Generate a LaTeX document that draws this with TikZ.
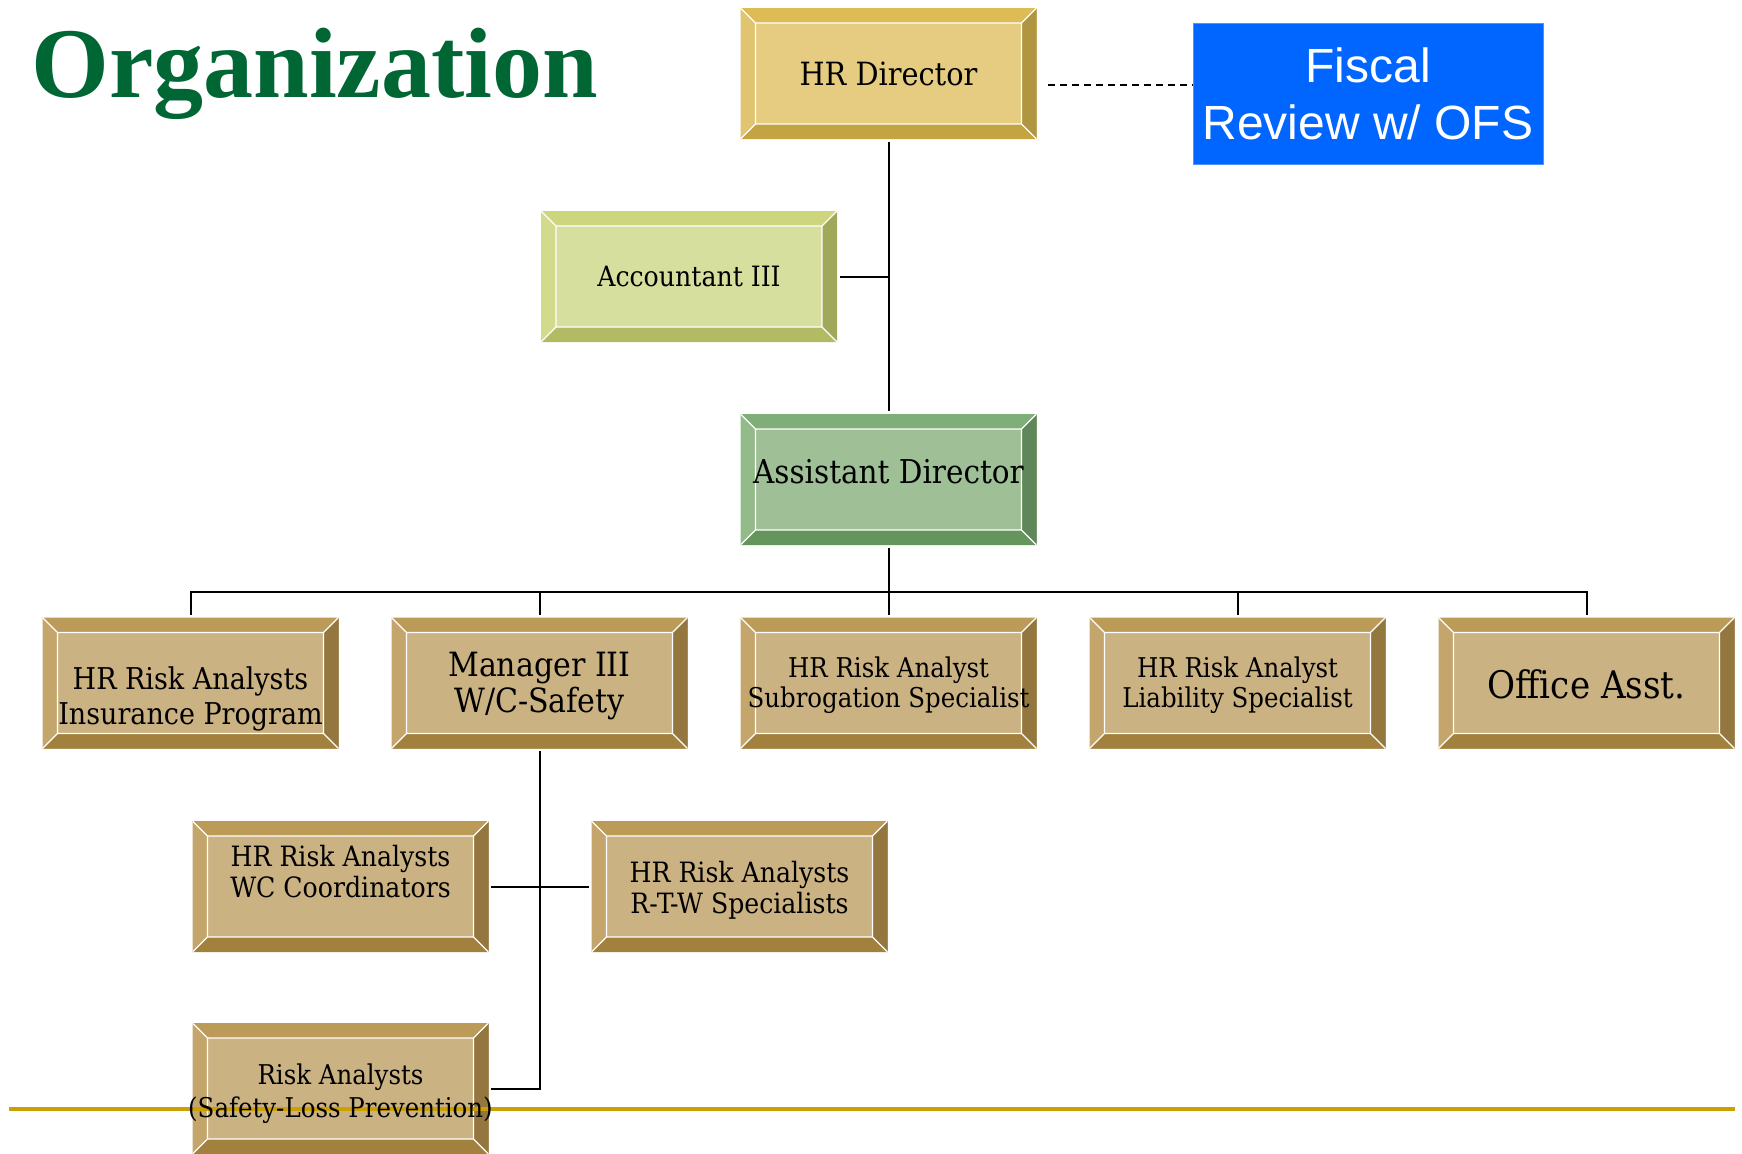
\documentclass[tikz,border=0pt]{standalone}
\usepackage{fontspec}
\setmainfont{DejaVu Serif Condensed}
\newfontfamily\titlefont{Liberation Serif}
\newfontfamily\fiscalfont{Liberation Sans}
\usepackage{tikz}
\usetikzlibrary{shapes}

\definecolor{orggreen}{RGB}{0,102,51}
\definecolor{fiscalblue}{RGB}{0,102,255}
\definecolor{rulegold}{RGB}{204,160,0}
\definecolor{hrC}{RGB}{229,204,128}
\definecolor{hrT}{RGB}{221,187,85}
\definecolor{hrL}{RGB}{224,196,112}
\definecolor{hrR}{RGB}{176,150,64}
\definecolor{hrB}{RGB}{196,164,66}
\definecolor{acC}{RGB}{214,223,158}
\definecolor{acT}{RGB}{205,214,125}
\definecolor{acL}{RGB}{210,219,140}
\definecolor{acR}{RGB}{160,168,90}
\definecolor{acB}{RGB}{178,187,98}
\definecolor{adC}{RGB}{159,192,151}
\definecolor{adT}{RGB}{127,174,120}
\definecolor{adL}{RGB}{147,187,138}
\definecolor{adR}{RGB}{95,135,89}
\definecolor{adB}{RGB}{100,149,93}
\definecolor{tanC}{RGB}{203,178,131}
\definecolor{tanT}{RGB}{188,154,87}
\definecolor{tanL}{RGB}{196,166,108}
\definecolor{tanR}{RGB}{147,119,63}
\definecolor{tanB}{RGB}{162,129,63}

\tikzset{bevel/.style n args={5}{fill=#1, path picture={
  \path (path picture bounding box.north west) coordinate (oA)
        (path picture bounding box.north east) coordinate (oB)
        (path picture bounding box.south east) coordinate (oC)
        (path picture bounding box.south west) coordinate (oD);
  \path ([shift={(7.5pt,-7.5pt)}]oA) coordinate (iA)
        ([shift={(-7.5pt,-7.5pt)}]oB) coordinate (iB)
        ([shift={(-7.5pt,7.5pt)}]oC) coordinate (iC)
        ([shift={(7.5pt,7.5pt)}]oD) coordinate (iD);
  \fill [#2] (oA) -- (oB) -- (iB) -- (iA) -- cycle;
  \fill [#3] (oA) -- (iA) -- (iD) -- (oD) -- cycle;
  \fill [#4] (oB) -- (oC) -- (iC) -- (iB) -- cycle;
  \fill [#5] (oD) -- (iD) -- (iC) -- (oC) -- cycle;
  \draw [white, line width=0.6pt] (iA) rectangle (iC) (oA) -- (iA) (oB) -- (iB) (oC) -- (iC) (oD) -- (iD);
}}}

\tikzstyle{line} = [draw, line width=1pt, shorten <=1.25pt, shorten >=1.25pt]
\tikzstyle{dashline} = [draw, line width=0.75pt, dash pattern=on 3.5pt off 2.5pt, shorten <=5.5pt]
\tikzstyle{box} = [rectangle, minimum width=148pt, minimum height=65.5pt, inner sep=0pt, text centered, align=center]
\tikzstyle{hrbox} = [box, bevel={hrC}{hrT}{hrL}{hrR}{hrB}]
\tikzstyle{acbox} = [box, bevel={acC}{acT}{acL}{acR}{acB}]
\tikzstyle{adbox} = [box, bevel={adC}{adT}{adL}{adR}{adB}]
\tikzstyle{tanbox} = [box, bevel={tanC}{tanT}{tanL}{tanR}{tanB}]
\tikzstyle{fiscalbox} = [rectangle, fill=fiscalblue, draw=fiscalblue!70!white, line width=0.4pt, minimum width=175pt, minimum height=70.5pt, inner sep=0pt, text=white, align=center, font=\fiscalfont\fontsize{24}{28.5}\selectfont]

\begin{document}
\begin{tikzpicture}[x=0.5pt, y=-0.5pt]
\useasboundingbox (0,0) rectangle (1742,1153);

\node [anchor=base west, text=orggreen, inner sep=0pt, font=\titlefont\bfseries\fontsize{50}{54}\selectfont] (title) at (31,97) {Organization};

\node [hrbox, font=\fontsize{16}{19}\selectfont] (hrdir) at (888.5,73.5) {HR Director};
\node [fiscalbox, right of = hrdir, node distance = 239.75pt, yshift=-10pt] (fiscal) {Fiscal\\Review w/ OFS};
\node [acbox, below of = hrdir, node distance = 101.5pt, xshift=-99.75pt, font=\fontsize{14}{17}\selectfont] (acct) {Accountant III};
\node [adbox, below of = hrdir, node distance = 203pt, font=\fontsize{16.4}{19}\selectfont] (asstdir) {Assistant Director\rule[-8pt]{0pt}{8pt}};

% second level
\node [tanbox, below of = asstdir, node distance = 101.75pt, font=\fontsize{13.6}{15}\selectfont] (subro) {\rule{0pt}{13pt}HR Risk Analyst\\Subrogation Specialist};
\node [tanbox, left of = subro, node distance = 174.5pt, font=\fontsize{16.7}{18}\selectfont] (mgr) {\rule{0pt}{15pt}Manager III\\W/C-Safety};
\node [tanbox, left of = mgr, node distance = 174.5pt, font=\fontsize{15}{17.5}\selectfont] (ins) {\rule{0pt}{27pt}HR Risk Analysts\\Insurance Program};
\node [tanbox, right of = subro, node distance = 174.5pt, font=\fontsize{13.6}{15}\selectfont] (liab) {\rule{0pt}{13pt}HR Risk Analyst\\Liability Specialist};
\node [tanbox, right of = liab, node distance = 174.5pt, font=\fontsize{19}{21}\selectfont] (office) {\rule{0pt}{16pt}Office Asst.};

% under manager
\node [tanbox, below of = mgr, node distance = 101.75pt, xshift=-99.5pt, font=\fontsize{14}{15.5}\selectfont] (wc) {HR Risk Analysts\\WC Coordinators\rule[-15pt]{0pt}{15pt}};
\node [tanbox, right of = wc, node distance = 199.5pt, font=\fontsize{14}{15.5}\selectfont] (rtw) {\rule{0pt}{14pt}HR Risk Analysts\\R-T-W Specialists};
\node [tanbox, below of = wc, node distance = 101pt] (safety) {};

\coordinate (rulel) at (9,1109);
\coordinate (ruler) at (1735,1109);
\draw [rulegold, line width=1.75pt] (rulel) -- (ruler);
\node [align=center, font=\fontsize{13.6}{16.5}\selectfont, yshift=-2.5pt] (safetytxt) at (safety) {Risk Analysts\\(Safety-Loss Prevention)};

% connectors
\coordinate (fiscin) at ([yshift=4.25pt]fiscal.west);
\path [dashline] (hrdir.east |- fiscin) to (fiscin);
\path [line] (hrdir.south) to (asstdir.north);
\path [line, shorten >=0pt] (acct.east) to (acct.east -| hrdir.south);

\coordinate (bus) at ([yshift=12.5pt]subro.north);
\path [line, shorten >=0pt] (asstdir.south) to (bus);
\path [line] (ins.north) |- (bus) -| (office.north);
\path [line, shorten >=0pt] (mgr.north) to (mgr.north |- bus);
\path [line, shorten >=0pt] (subro.north) to (bus);
\path [line, shorten >=0pt] (liab.north) to (liab.north |- bus);

\path [line] (mgr.south) |- (safety.east);
\path [line] (wc.east) to (rtw.west);

\end{tikzpicture}
\end{document}
